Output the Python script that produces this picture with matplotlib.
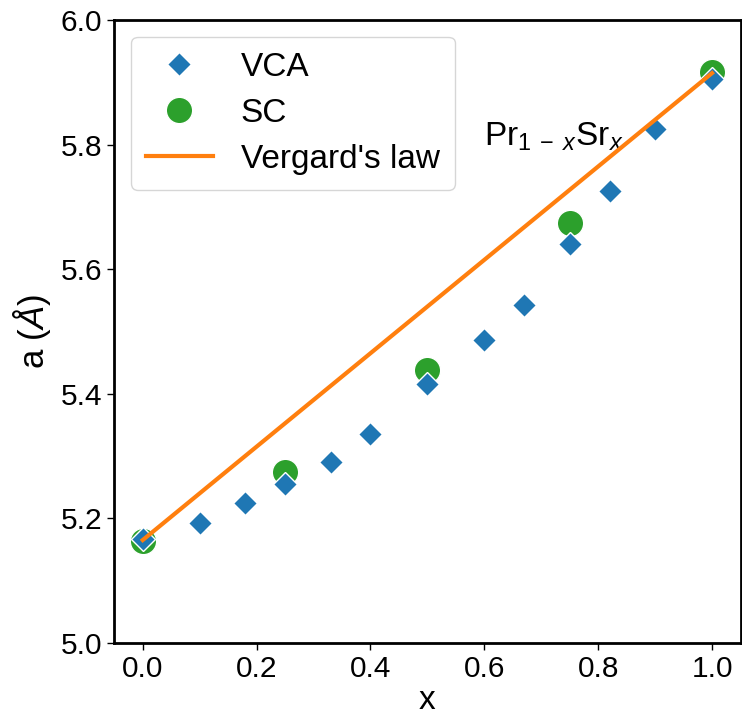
import matplotlib
matplotlib.use("Agg")
import matplotlib.pyplot as plt

plt.rcParams['font.family'] = ['Liberation Sans', 'DejaVu Sans']
plt.rcParams['mathtext.fontset'] = 'custom'
plt.rcParams['mathtext.rm'] = 'Liberation Sans'
plt.rcParams['mathtext.it'] = 'Liberation Sans:italic'

# data
vca_x = [0.0, 0.1, 0.18, 0.25, 0.33, 0.4, 0.5, 0.6, 0.67, 0.75, 0.82, 0.9, 1.0]
vca_a = [5.167, 5.192, 5.225, 5.255, 5.290, 5.336, 5.416, 5.486, 5.542, 5.640, 5.725, 5.825, 5.906]
sc_x = [0.0, 0.25, 0.5, 0.75, 1.0]
sc_a = [5.164, 5.274, 5.438, 5.674, 5.916]
vegard_x = [0.0, 1.0]
vegard_a = [5.165, 5.915]

fig = plt.figure(figsize=(7.42, 7.19), dpi=100)
ax = fig.add_axes([0.154, 0.106, 0.844, 0.866])

ax.plot(vca_x, vca_a, 'D', color='#1f77b4', markersize=12.5, markeredgecolor='white',
        markeredgewidth=1.0, linestyle='none', label='VCA', zorder=3)
ax.plot(sc_x, sc_a, 'o', color='#2ca02c', markersize=19, markeredgecolor='white',
        markeredgewidth=1.0, linestyle='none', label='SC', zorder=2)
ax.plot(vegard_x, vegard_a, '-', color='#ff7f0e', linewidth=3, label="Vergard's law", zorder=4)

ax.text(0.6, 5.812, r'Pr$_{1\;-\;x}$Sr$_x$', fontsize=24, va='center', ha='left')

ax.set_xlim(-0.05, 1.05)
ax.set_ylim(5.0, 6.0)
ax.set_xticks([0.0, 0.2, 0.4, 0.6, 0.8, 1.0])
ax.set_yticks([5.0, 5.2, 5.4, 5.6, 5.8, 6.0])
ax.tick_params(labelsize=21.5, width=1, length=5)
ax.set_xlabel('x', fontsize=24, labelpad=2)
ax.set_ylabel(r'a ($Å$)', fontsize=25, labelpad=6)
for s in ax.spines.values():
    s.set_linewidth(2)

leg = ax.legend(loc='upper left', fontsize=24, frameon=True, borderpad=0.45,
                handlelength=2.0, handletextpad=0.85, labelspacing=0.45)
leg.get_frame().set_edgecolor('#cccccc')

fig.savefig('out.png', dpi=100)
